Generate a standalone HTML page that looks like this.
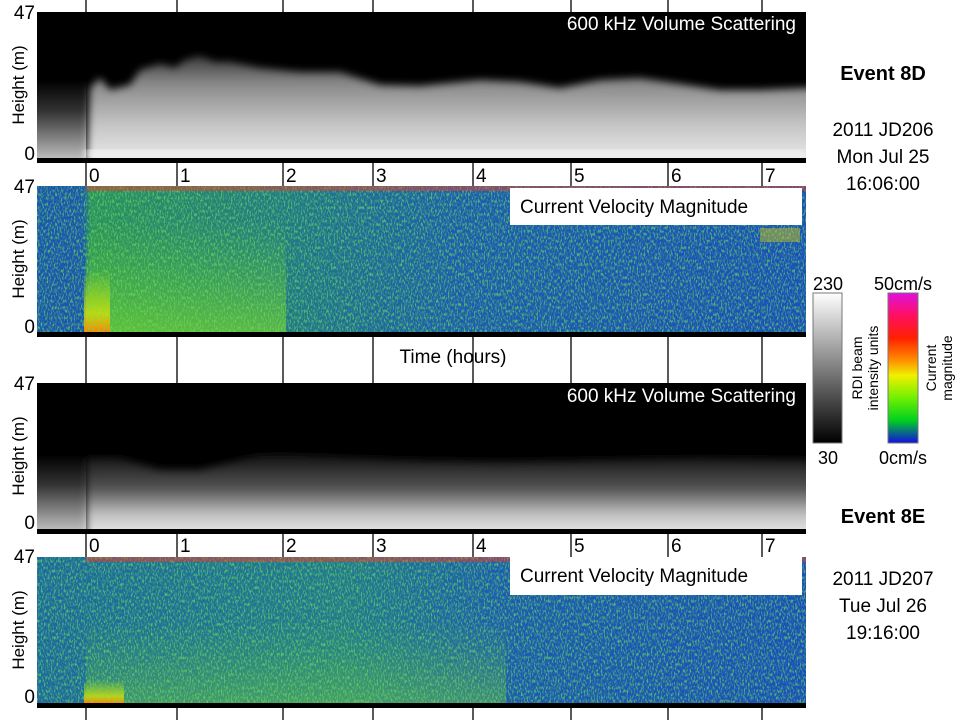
<!DOCTYPE html>
<html><head><meta charset="utf-8"><style>
body{margin:0;background:#fff;width:960px;height:720px;overflow:hidden}
svg{display:block}
text{font-family:"Liberation Sans",sans-serif}
</style></head><body>
<svg width="960" height="720" viewBox="0 0 960 720" xmlns="http://www.w3.org/2000/svg">
<defs>
<linearGradient id="gw" x1="0" y1="0" x2="0" y2="1">
<stop offset="0" stop-color="#3a3a3a"/><stop offset="0.25" stop-color="#8a8a8a"/><stop offset="0.6" stop-color="#c4c4c4"/><stop offset="1" stop-color="#f4f4f4"/></linearGradient>
<linearGradient id="gl" x1="0" y1="0" x2="0" y2="1">
<stop offset="0" stop-color="#000"/><stop offset="0.4" stop-color="#333"/><stop offset="1" stop-color="#bbb"/></linearGradient>
<linearGradient id="gw3" x1="0" y1="0" x2="0" y2="1">
<stop offset="0" stop-color="#111"/><stop offset="0.4" stop-color="#555"/><stop offset="0.7" stop-color="#c0c0c0"/><stop offset="1" stop-color="#f8f8f8"/></linearGradient>
<linearGradient id="cbg" x1="0" y1="0" x2="0" y2="1"><stop offset="0" stop-color="#fff"/><stop offset="1" stop-color="#000"/></linearGradient>
<linearGradient id="cbc" x1="0" y1="0" x2="0" y2="1">
<stop offset="0" stop-color="#e010e0"/><stop offset="0.15" stop-color="#ff1060"/><stop offset="0.3" stop-color="#ff2000"/><stop offset="0.45" stop-color="#ff9000"/><stop offset="0.55" stop-color="#f0f000"/><stop offset="0.7" stop-color="#70f000"/><stop offset="0.85" stop-color="#00d020"/><stop offset="1" stop-color="#1010e0"/></linearGradient>
<filter id="nz" x="0" y="0" width="1" height="1">
<feTurbulence type="fractalNoise" baseFrequency="0.7 0.3" numOctaves="2" seed="3"/>
<feColorMatrix type="matrix" values="0 0 0 0 0.15  0 0 0 0 0.75  0 0 0 0 0.1  0 0 0 3.5 -1.6"/>
</filter>
<filter id="bl"><feGaussianBlur stdDeviation="4"/></filter>
<linearGradient id="vg2" x1="0" y1="0" x2="1" y2="0">
<stop offset="0" stop-color="#1a55b0"/><stop offset="0.06" stop-color="#1a55b0"/><stop offset="0.07" stop-color="#2a9060"/><stop offset="0.3" stop-color="#237a85"/><stop offset="0.55" stop-color="#1c5cb0"/><stop offset="1" stop-color="#1a4fba"/></linearGradient>
<linearGradient id="vg4" x1="0" y1="0" x2="1" y2="0">
<stop offset="0" stop-color="#1d68a0"/><stop offset="0.4" stop-color="#227890"/><stop offset="0.6" stop-color="#1c5cb0"/><stop offset="1" stop-color="#1a4fba"/></linearGradient>
<linearGradient id="vb" x1="0" y1="0" x2="0" y2="1"><stop offset="0" stop-color="#60d020" stop-opacity="0"/><stop offset="1" stop-color="#80e020" stop-opacity="0.6"/></linearGradient>
<linearGradient id="hot" x1="0" y1="0" x2="0" y2="1"><stop offset="0" stop-color="#c0f000" stop-opacity="0"/><stop offset="0.7" stop-color="#e0e000" stop-opacity="0.8"/><stop offset="1" stop-color="#ff8000"/></linearGradient>
</defs>

<g stroke="#000" stroke-width="1.3">
<path d="M86 0V720M177 0V720M283 0V720M373 0V720M473 0V720M571 0V720M668 0V720M762 0V720"/>
</g>

<!-- Panel 1 -->
<svg x="37" y="12" width="769" height="146" viewBox="37 12 769 146">
<rect x="37" y="12" width="769" height="146" fill="#000"/>
<rect x="37" y="80" width="49" height="78" fill="url(#gl)"/>
<polygon points="86,170 90,88 100,78 110,90 130,85 140,70 160,64 175,68 185,60 200,56 215,62 230,62 260,68 300,72 340,72 380,85 420,86 480,80 520,82 560,88 600,80 640,78 680,84 720,90 760,90 806,88 820,88 820,170" fill="url(#gw)" filter="url(#bl)"/>
<rect x="86" y="150" width="720" height="8" fill="#f2f2f2" filter="url(#bl)"/>
</svg>
<rect x="37" y="158" width="769" height="5" fill="#000"/>
<text x="796" y="30" fill="#fff" font-size="19" text-anchor="end">600 kHz Volume Scattering</text>

<!-- Panel 2 -->
<rect x="37" y="186" width="769" height="146" fill="url(#vg2)"/>
<rect x="86" y="220" width="200" height="112" fill="url(#vb)"/>
<rect x="84" y="270" width="26" height="62" fill="url(#hot)"/>
<rect x="37" y="186" width="769" height="146" filter="url(#nz)" opacity="0.7"/>
<rect x="86" y="186" width="720" height="5" fill="#e04030" opacity="0.5"/>
<rect x="510" y="188" width="292" height="37" fill="#fff"/>
<text x="520" y="213" fill="#000" font-size="19">Current Velocity Magnitude</text>
<rect x="37" y="332" width="769" height="5" fill="#000"/>
<rect x="760" y="228" width="40" height="14" fill="#c0c020" opacity="0.5"/>

<!-- Panel 3 -->
<svg x="37" y="383" width="769" height="146" viewBox="37 383 769 146">
<rect x="37" y="383" width="769" height="146" fill="#000"/>
<rect x="37" y="455" width="49" height="74" fill="url(#gl)"/>
<polygon points="86,540 86,458 120,458 160,470 200,470 260,455 300,455 400,460 500,462 600,460 700,458 820,460 820,540" fill="url(#gw3)" filter="url(#bl)"/>
</svg>
<rect x="37" y="529" width="769" height="5" fill="#000"/>
<text x="796" y="402" fill="#fff" font-size="19" text-anchor="end">600 kHz Volume Scattering</text>

<!-- Panel 4 -->
<rect x="37" y="557" width="769" height="146" fill="url(#vg4)"/>
<rect x="86" y="620" width="420" height="83" fill="url(#vb)" opacity="0.6"/>
<rect x="84" y="680" width="40" height="23" fill="url(#hot)"/>
<rect x="37" y="557" width="769" height="146" filter="url(#nz)" opacity="0.7"/>
<rect x="86" y="557" width="720" height="5" fill="#e04030" opacity="0.5"/>
<rect x="510" y="557" width="292" height="38" fill="#fff"/>
<text x="520" y="582" fill="#000" font-size="19">Current Velocity Magnitude</text>
<rect x="37" y="703" width="769" height="5" fill="#000"/>

<g font-size="19" fill="#000">
<text x="35" y="19" text-anchor="end">47</text>
<text x="35" y="160" text-anchor="end">0</text>
<text x="35" y="193" text-anchor="end">47</text>
<text x="35" y="333" text-anchor="end">0</text>
<text x="35" y="390" text-anchor="end">47</text>
<text x="35" y="529" text-anchor="end">0</text>
<text x="35" y="563" text-anchor="end">47</text>
<text x="35" y="703" text-anchor="end">0</text>
<g>
<text x="89" y="182">0</text><text x="180" y="182">1</text><text x="286" y="182">2</text><text x="376" y="182">3</text><text x="476" y="182">4</text><text x="574" y="182">5</text><text x="671" y="182">6</text><text x="765" y="182">7</text>
<text x="89" y="552">0</text><text x="180" y="552">1</text><text x="286" y="552">2</text><text x="376" y="552">3</text><text x="476" y="552">4</text><text x="574" y="552">5</text><text x="671" y="552">6</text><text x="765" y="552">7</text>
</g>
<text x="453" y="363" text-anchor="middle">Time (hours)</text>
<text transform="translate(24,85) rotate(-90)" text-anchor="middle" font-size="17">Height (m)</text>
<text transform="translate(24,259) rotate(-90)" text-anchor="middle" font-size="17">Height (m)</text>
<text transform="translate(24,456) rotate(-90)" text-anchor="middle" font-size="17">Height (m)</text>
<text transform="translate(24,630) rotate(-90)" text-anchor="middle" font-size="17">Height (m)</text>
<text x="883" y="80" text-anchor="middle" font-weight="bold" font-size="20">Event 8D</text>
<text x="883" y="136" text-anchor="middle">2011 JD206</text>
<text x="883" y="163" text-anchor="middle">Mon Jul 25</text>
<text x="883" y="190" text-anchor="middle">16:06:00</text>
<text x="883" y="523" text-anchor="middle" font-weight="bold" font-size="20">Event 8E</text>
<text x="883" y="585" text-anchor="middle">2011 JD207</text>
<text x="883" y="612" text-anchor="middle">Tue Jul 26</text>
<text x="883" y="639" text-anchor="middle">19:16:00</text>
<text x="828" y="290" text-anchor="middle" font-size="18">230</text>
<text x="828" y="464" text-anchor="middle" font-size="18">30</text>
<text x="903" y="290" text-anchor="middle" font-size="18">50cm/s</text>
<text x="903" y="464" text-anchor="middle" font-size="18">0cm/s</text>
</g>
<rect x="813" y="293" width="29" height="150" fill="url(#cbg)" stroke="#777"/>
<rect x="888" y="293" width="30" height="150" fill="url(#cbc)" stroke="#777"/>
<g font-size="14" fill="#000">
<text transform="translate(862,368) rotate(-90)" text-anchor="middle">RDI beam</text>
<text transform="translate(878,368) rotate(-90)" text-anchor="middle">intensity units</text>
<text transform="translate(936,368) rotate(-90)" text-anchor="middle">Current</text>
<text transform="translate(952,368) rotate(-90)" text-anchor="middle">magnitude</text>
</g>
</svg>
</body></html>
